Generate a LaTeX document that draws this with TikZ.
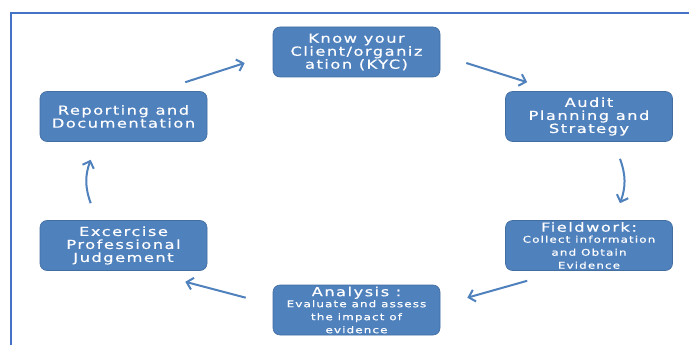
\documentclass[tikz,border=0pt]{standalone}
\usepackage{fontspec}
\usetikzlibrary{arrows.meta,calc}
\newfontfamily\boxfont[FakeStretch=1.3,LetterSpace=12,FakeBold=0.5]{DejaVu Sans}
\newcommand\smtxt{\fontsize{9.2}{9.8}\selectfont}
\definecolor{boxblue}{HTML}{4F81BD}
\definecolor{frameblue}{HTML}{4472C4}
\begin{document}
\begin{tikzpicture}[x=1pt,y=-1pt,
  stepbox/.style={fill=boxblue, draw=boxblue!85!black, line width=0.6pt, rounded corners=7pt,
    minimum width=167pt, minimum height=50pt, inner sep=0pt, text=white,
    font=\boxfont\fontsize{12.5}{13}\selectfont, align=center},
  flow/.style={draw=boxblue, line width=2pt, -{Straight Barb[length=6pt,width=12pt,line width=2pt]}}]
\useasboundingbox (0,0) rectangle (689,345);
\fill[white] (0,0) rectangle (689,345);
\draw[frameblue, line width=2pt] (11,360) -- (11,13) -- (700,13);

\node[stepbox] (kyc) at (356.5,52) {Know your\\Client/organiz\\ation (KYC)};
\node[stepbox] (audit) at (589,116.5) {Audit\\Planning and\\Strategy};
\node[stepbox] (field) at (589,245.5) {Fieldwork:\\[-2pt]\smtxt Collect information\\\smtxt and Obtain\\\smtxt Evidence};
\node[stepbox] (anal) at (356.5,310) {Analysis :\\[-2pt]\smtxt Evaluate and assess\\\smtxt the impact of\\\smtxt evidence};
\node[stepbox] (exc) at (123.5,245.5) {Excercise\\Professional\\Judgement};
\node[stepbox] (rep) at (123.5,116.5) {Reporting and\\Documentation};

\draw[flow] ($(kyc.east)+(26,11)$) -- ($(audit.north west)+(22,-9)$);
\draw[flow] ($(audit.south)+(31,17)$) to[bend left=20] ($(field.north)+(31,-17)$);
\draw[flow] ($(field.south west)+(22,10)$) -- ($(anal.north east)+(27,13)$);
\draw[flow] ($(anal.north west)+(-27,13)$) -- ($(exc.south east)+(-22,11)$);
\draw[flow] ($(exc.north west)+(51,-17)$) to[bend left=20] ($(rep.south west)+(51,18)$);
\draw[flow] ($(rep.north east)+(-22,-9)$) -- ($(kyc.west)+(-28,11)$);
\end{tikzpicture}
\end{document}
